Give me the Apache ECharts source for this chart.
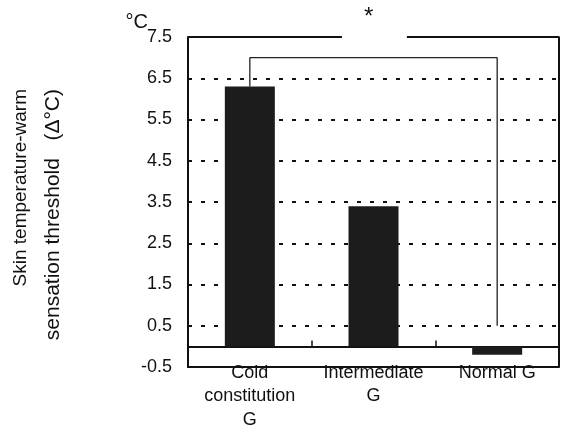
<!DOCTYPE html>
<html>
<head>
<meta charset="utf-8">
<script src="https://cdn.jsdelivr.net/npm/echarts@6/dist/echarts.min.js"></script>
<style>
  html, body { margin: 0; padding: 0; background: #fff; }
  #chart { width: 565px; height: 426px; }
</style>
</head>
<body>
<div id="chart"></div>
<script>
// data
const categories = ['Cold\nconstitution\nG', 'Intermediate\nG', 'Normal G'];
const thresholds = [6.3, 3.4, -0.2];
const yMin = -0.5;
const yMax = 7.5;
const yStep = 1;
// significance bracket: starts on bar 0, ends at 0.5 above bar 2
const bracketTop = 7.0;
const bracketEnd = 0.5;
// gap in the top frame line where the asterisk sits (in category units)
const gapFrom = 0.745;
const gapTo = 1.27;

const font = '"Liberation Sans", Arial, sans-serif';
const ink = '#111';

const chartDom = document.getElementById('chart');
const chart = echarts.init(chartDom);

const lineStyle = (w) => ({ color: ink, width: w });

const option = {
    animation: false,
    backgroundColor: '#fff',
    title: {
        text: '*',
        left: 359, top: 0,
        textStyle: { fontFamily: font, fontSize: 24, fontWeight: 'normal', color: ink }
    },
    graphic: [{
        type: 'text',
        x: 4, y: 89,
        rotation: Math.PI / 2,
        style: {
            text: '{a|Skin temperature-warm}\n{b|sensation threshold   (Δ°C)}',
            fill: ink,
            textAlign: 'right',
            textVerticalAlign: 'top',
            rich: {
                a: { fontFamily: font, fontSize: 19, lineHeight: 33, fill: ink },
                b: { fontFamily: font, fontSize: 21, lineHeight: 33, fill: ink }
            }
        }
    }],
    grid: { left: 188, right: 6, top: 37, bottom: 59, outerBoundsMode: 'none', containLabel: false },
    xAxis: [{
        type: 'category',
        data: categories,
        position: 'bottom',
        axisLine: { onZero: false, lineStyle: lineStyle(2) },
        axisTick: { show: false },
        axisLabel: {
            fontFamily: font, fontSize: 18, color: ink,
            lineHeight: 23.5, margin: -6, interval: 0
        }
    }, {
        // overlay axis in category units: zero line with boundary ticks
        type: 'value',
        min: -0.5, max: 2.5, interval: 1,
        position: 'bottom',
        axisLine: { show: true, onZero: true, lineStyle: lineStyle(2) },
        axisTick: { show: true, inside: true, length: 6, lineStyle: lineStyle(1.5) },
        axisLabel: { show: false },
        splitLine: { show: false }
    }],
    yAxis: {
        type: 'value',
        min: yMin, max: yMax, interval: yStep,
        name: '°C',
        nameLocation: 'end',
        nameGap: 15,
        nameMoveOverlap: false,
        nameTextStyle: {
            fontFamily: font, fontSize: 20, color: ink,
            align: 'right', verticalAlign: 'middle', padding: [0, 40, 0, 0]
        },
        axisLine: { show: true, onZero: false, lineStyle: lineStyle(2) },
        axisTick: { show: false },
        axisLabel: {
            fontFamily: font, fontSize: 18, color: ink, margin: 16,
            formatter: (v) => v.toFixed(1)
        },
        splitLine: {
            show: true,
            showMinLine: false,
            showMaxLine: false,
            lineStyle: { color: ink, width: 2, type: [4, 9] }
        }
    },
    series: [{
        type: 'bar',
        xAxisIndex: 0,
        data: thresholds,
        barWidth: 50,
        itemStyle: { color: '#1c1c1c' }
    }, {
        // top frame, left part
        type: 'line',
        xAxisIndex: 1,
        data: [[-0.5, yMax], [gapFrom, yMax]],
        symbol: 'none', silent: true,
        lineStyle: lineStyle(2)
    }, {
        // top frame, right part and right side
        type: 'line',
        xAxisIndex: 1,
        data: [[gapTo, yMax], [2.5, yMax], [2.5, yMin]],
        symbol: 'none', silent: true,
        lineStyle: lineStyle(2)
    }, {
        // significance bracket
        type: 'line',
        xAxisIndex: 1,
        data: [[0, thresholds[0]], [0, bracketTop], [2, bracketTop], [2, bracketEnd]],
        symbol: 'none', silent: true,
        lineStyle: { color: '#222', width: 1.3 }
    }]
};

chart.setOption(option);
window.addEventListener('resize', () => chart.resize());
</script>
</body>
</html>
